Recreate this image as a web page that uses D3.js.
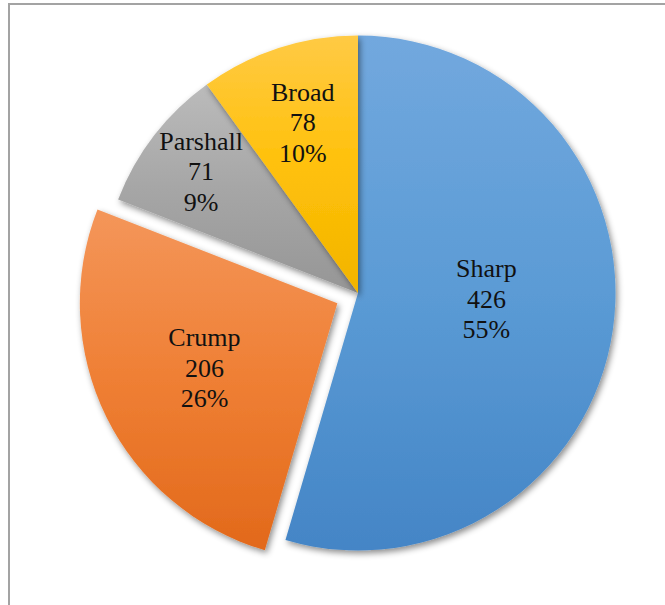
<!DOCTYPE html>
<html>
<head>
<meta charset="utf-8">
<script src="https://cdn.jsdelivr.net/npm/d3@7"></script>
<style>
  html, body { margin: 0; padding: 0; background: #fff; }
  svg { display: block; }
</style>
</head>
<body>
<script>
// Pie data: slices drawn clockwise from 12 o'clock
const categories = ["Sharp", "Crump", "Parshall", "Broad"];
const values = [426, 206, 71, 78];
const percentLabels = ["55%", "26%", "9%", "10%"];
const explodedSlices = ["Crump"];

const W = 665, H = 605;
const cx = 358, cy = 293, R = 257.5;
const explodeDist = 23;

// gradient stops per slice: light top, base middle, darker bottom
const palette = {
  Sharp:    ["#72a8de", "#5b9bd5", "#4485c6"],
  Crump:    ["#f4965a", "#ef7f34", "#e2691b"],
  Parshall: ["#bbbbbb", "#a6a6a6", "#969696"],
  Broad:    ["#ffca45", "#ffc10a", "#f2b400"]
};
// label distance from slice centre (fraction of radius) and small nudges
const labelRadius = { Sharp: 0.50, Crump: 0.575, Parshall: 0.77, Broad: 0.695 };
const labelNudge  = { Sharp: [1, -12], Crump: [0, 0], Parshall: [0, 0], Broad: [0, 0] };

const svg = d3.select("body").append("svg")
  .attr("width", W).attr("height", H);

const defs = svg.append("defs");
const shadow = defs.append("filter").attr("id", "shadow")
  .attr("x", "-20%").attr("y", "-20%").attr("width", "140%").attr("height", "140%");
shadow.append("feDropShadow")
  .attr("dx", 2).attr("dy", 3).attr("stdDeviation", 3)
  .attr("flood-color", "#000").attr("flood-opacity", 0.45);

categories.forEach((c, i) => {
  const g = defs.append("linearGradient").attr("id", "grad" + i)
    .attr("x1", 0).attr("y1", 0).attr("x2", 0).attr("y2", 1);
  g.append("stop").attr("offset", "0%").attr("stop-color", palette[c][0]);
  g.append("stop").attr("offset", "50%").attr("stop-color", palette[c][1]);
  g.append("stop").attr("offset", "100%").attr("stop-color", palette[c][2]);
});

// chart frame
svg.append("rect")
  .attr("x", 9).attr("y", 4).attr("width", W + 20).attr("height", H + 20)
  .attr("fill", "none").attr("stroke", "#a3a3a3").attr("stroke-width", 2);

const data = categories.map((c, i) => ({ name: c, value: values[i], pct: percentLabels[i], idx: i }));
const pie = d3.pie().sort(null).value(d => d.value);
const arcs = pie(data);
const arc = d3.arc().innerRadius(0).outerRadius(R);

function sliceOffset(a) {
  if (!explodedSlices.includes(a.data.name)) return [0, 0];
  const mid = (a.startAngle + a.endAngle) / 2;
  return [Math.sin(mid) * explodeDist, -Math.cos(mid) * explodeDist];
}

const root = svg.append("g").attr("transform", `translate(${cx},${cy})`);

root.selectAll("path.slice")
  .data(arcs)
  .join("path")
  .attr("class", "slice")
  .attr("d", arc)
  .attr("transform", a => { const o = sliceOffset(a); return `translate(${o[0]},${o[1]})`; })
  .attr("fill", a => `url(#grad${a.data.idx})`)
  .attr("filter", "url(#shadow)");

const lineH = 30.5;
const labels = root.selectAll("text.lbl")
  .data(arcs)
  .join("text")
  .attr("class", "lbl")
  .attr("font-family", "'Liberation Serif', 'Times New Roman', serif")
  .attr("font-size", 26)
  .attr("fill", "#111")
  .attr("text-anchor", "middle")
  .attr("transform", a => {
    const o = sliceOffset(a);
    const mid = (a.startAngle + a.endAngle) / 2;
    const r = R * labelRadius[a.data.name];
    const n = labelNudge[a.data.name];
    const x = o[0] + Math.sin(mid) * r + n[0];
    const y = o[1] - Math.cos(mid) * r + n[1];
    return `translate(${x},${y})`;
  });

labels.each(function(a) {
  const t = d3.select(this);
  const lines = [a.data.name, String(a.data.value), a.data.pct];
  lines.forEach((s, k) => {
    t.append("tspan")
      .attr("x", 0)
      .attr("y", (k - 1) * lineH + 8.5)
      .text(s);
  });
});
</script>
</body>
</html>
